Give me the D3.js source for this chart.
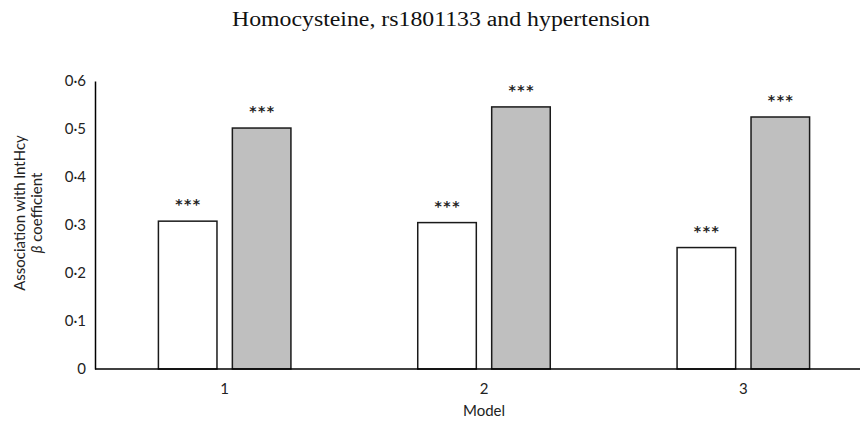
<!DOCTYPE html>
<html><head><meta charset="utf-8">
<script src="https://cdn.jsdelivr.net/npm/d3@7"></script>
<style>body{margin:0;background:#fff}svg{display:block}</style>
</head><body>
<svg id="c" width="860" height="428"></svg>
<script>
const models = ["1", "2", "3"];
const seriesA = [0.308, 0.305, 0.253];   // white bars
const seriesB = [0.502, 0.546, 0.525];   // grey bars
const stars = ["***", "***", "***"];
const yTicks = [0, 0.1, 0.2, 0.3, 0.4, 0.5, 0.6];
const title = "Homocysteine, rs1801133 and hypertension";

(function(){
const svg = d3.select("#c");
const mL = 95, mR = 873, mT = 81, mB = 369;
const FONT = "Lato";
const x0 = d3.scaleBand().domain(models).range([mL, mR]).paddingInner(0.489).paddingOuter(0.2445);
const x1 = d3.scaleBand().domain(["A","B"]).range([0, x0.bandwidth()]).paddingInner(0.208);
const y = d3.scaleLinear().domain([0, 0.6]).range([mB, mT]);

svg.append("text").attr("x", 441).attr("y", 26).attr("text-anchor", "middle")
  .attr("font-family", "Liberation Serif").attr("font-size", 20).attr("fill", "#111")
  .attr("textLength", 418).attr("lengthAdjust", "spacingAndGlyphs")
  .text(title);

const rows = models.map((m, i) => ({m, i, vals: [{k:"A", v: seriesA[i], s: stars[i]}, {k:"B", v: seriesB[i], s: stars[i]}]}));
const g = svg.selectAll("g.grp").data(rows).join("g").attr("class","grp")
  .attr("transform", d => `translate(${x0(d.m)},0)`);
g.selectAll("rect").data(d => d.vals).join("rect")
  .attr("x", d => x1(d.k)).attr("width", x1.bandwidth())
  .attr("y", d => y(d.v)).attr("height", d => y(0) - y(d.v))
  .attr("fill", d => d.k === "A" ? "#ffffff" : "#bfbfbf")
  .attr("stroke", "#1a1a1a").attr("stroke-width", 1.5);
g.selectAll("text.star").data(d => d.vals).join("text").attr("class","star")
  .attr("x", d => x1(d.k) + x1.bandwidth()/2 + 0.75).attr("y", d => y(d.v) - 12)
  .attr("text-anchor", "middle").attr("font-family", "DejaVu Sans").attr("font-weight", "bold")
  .attr("font-size", 14).attr("letter-spacing", 1.5).attr("fill", "#222").text(d => d.s);

// y axis
const fmt = d => d === 0 ? "0" : d3.format(".1f")(d).replace(".", "\u00B7");
const ya = svg.append("g").attr("transform", `translate(${mL},0)`)
  .call(d3.axisLeft(y).tickValues(yTicks).tickFormat(fmt).tickSize(0).tickPadding(9));
ya.select(".domain").attr("stroke", "#000").attr("stroke-width", 1.5);
ya.selectAll("text").attr("font-family", FONT).attr("font-size", 15).attr("fill", "#222");

// x axis
const xa = svg.append("g").attr("transform", `translate(0,${mB})`)
  .call(d3.axisBottom(x0).tickSize(0).tickPadding(14));
xa.select(".domain").remove();
svg.append("line").attr("x1", mL).attr("x2", 860).attr("y1", mB).attr("y2", mB)
  .attr("stroke", "#000").attr("stroke-width", 1.5);
xa.selectAll("text").attr("font-family", FONT).attr("font-size", 15).attr("fill", "#222");

svg.append("text").attr("x", x0("2") + x0.bandwidth()/2).attr("y", 416).attr("text-anchor", "middle")
  .attr("font-family", FONT).attr("font-size", 15).attr("fill", "#222").text("Model");

const yl = svg.append("text").attr("transform", "translate(0,213) rotate(-90)")
  .attr("text-anchor", "middle").attr("font-family", FONT).attr("font-size", 15).attr("fill", "#222");
yl.append("tspan").attr("x", 0).attr("y", 25).text("Association with lntHcy");
const t2 = yl.append("tspan").attr("x", 0).attr("y", 42);
t2.append("tspan").attr("font-style", "italic").text("β");
t2.append("tspan").text(" coefficient");
})();
</script>
</body></html>
